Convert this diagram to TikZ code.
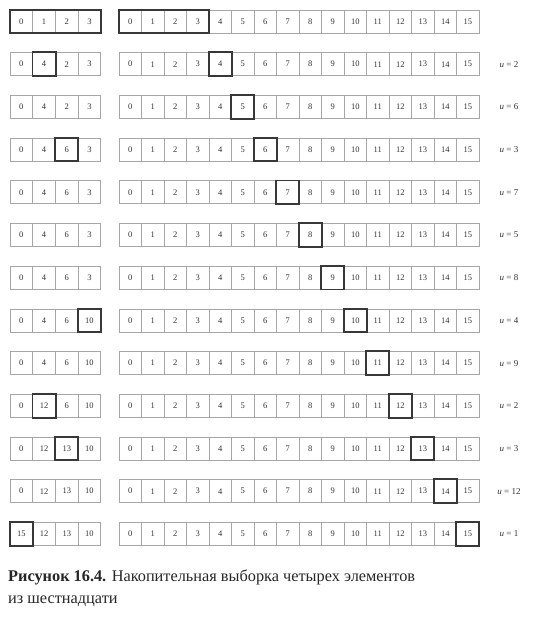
\documentclass[tikz,border=0pt]{standalone}
\usepackage{fontspec}
\setmainfont{Liberation Serif}
\begin{document}
\begin{tikzpicture}[x=1pt,y=-1pt,
  cell/.style={draw=gray!70, line width=0.6pt, minimum width=22.6pt, minimum height=23pt, inner sep=0pt, font=\fontsize{8.5}{9}\selectfont, text=black!80},
  hl/.style={draw=black!78, line width=1.9pt},
  ulabel/.style={font=\fontsize{9}{10}\selectfont, text=black!80},
  caption/.style={anchor=base west, font=\fontsize{16.3}{18}\selectfont, text=black!85, inner sep=0pt}]
\useasboundingbox (0,0) rectangle (537,617);
% rows: r / four left values / left highlight index (-1 none) / right highlight / u
\foreach \r/\a/\b/\c/\d/\lh/\rh/\u in {
  1/0/1/2/3/-1/-1/0,
  2/0/4/2/3/1/4/2,
  3/0/4/2/3/-1/5/6,
  4/0/4/6/3/2/6/3,
  5/0/4/6/3/-1/7/7,
  6/0/4/6/3/-1/8/5,
  7/0/4/6/3/-1/9/8,
  8/0/4/6/10/3/10/4,
  9/0/4/6/10/-1/11/9,
  10/0/12/6/10/1/12/2,
  11/0/12/13/10/2/13/3,
  12/0/12/13/10/-1/14/12,
  13/15/12/13/10/0/15/1}{
  \pgfmathsetmacro{\yy}{21.5+42.7*(\r-1)}
  \foreach \v [count=\i from 0] in {\a,\b,\c,\d}{
    \node[cell] (L-\r-\i) at ({10+22.7*(\i+0.5)},\yy) {\v};
  }
  \foreach \j in {0,...,15}{
    \node[cell] (R-\r-\j) at ({119+22.5*(\j+0.5)},\yy) {\j};
  }
  \ifnum\lh>-1
    \draw[hl] (L-\r-\lh.north west) rectangle (L-\r-\lh.south east);
  \fi
  \ifnum\rh>-1
    \draw[hl] (R-\r-\rh.north west) rectangle (R-\r-\rh.south east);
    \node[ulabel] (U-\r) at (509,\yy) {\textit{u} = \u};
  \fi
}
\draw[hl] (L-1-0.north west) rectangle (L-1-3.south east);
\draw[hl] (R-1-0.north west) rectangle (R-1-3.south east);
\node[caption] (cap1) at (8,581) {\textbf{Рисунок 16.4.} Накопительная выборка четырех элементов};
\node[caption] (cap2) at (8,603) {из шестнадцати};
\end{tikzpicture}
\end{document}
